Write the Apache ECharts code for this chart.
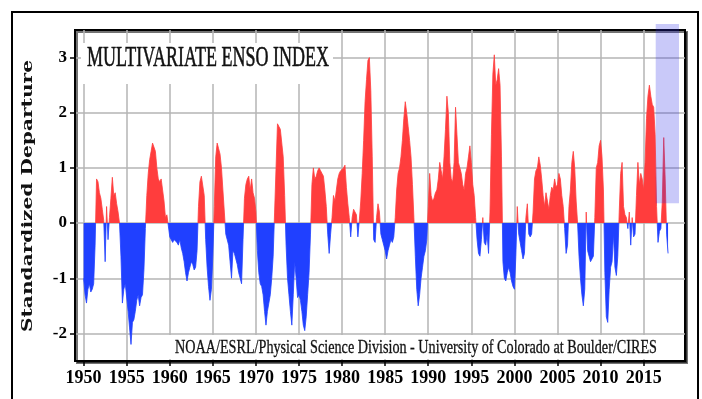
<!DOCTYPE html>
<html>
<head>
<meta charset="utf-8">
<script src="https://cdn.jsdelivr.net/npm/echarts@6/dist/echarts.min.js"></script>
<style>
  html, body { margin: 0; padding: 0; background: #fff; }
  #chart { width: 702px; height: 399px; }
</style>
</head>
<body>
<div id="chart"></div>
<script>
// MEI readings, six per year (Jan, Mar, May, Jul, Sep, Nov), one array per decade
const mei1950s = [
  -1.0, -1.3, -1.45, -1.2, -1.1, -1.25,
  -1.2, -1.1, -0.4, 0.8, 0.75, 0.55,
  0.45, 0.25, 0.05, -0.7, 0.3, -0.3,
  0.1, 0.45, 0.83, 0.5, 0.55, 0.35,
  0.2, 0.0, -0.6, -1.45, -1.2, -1.1,
  -1.1, -1.6, -1.9, -2.2, -1.8, -1.75,
  -1.6, -1.4, -1.3, -1.5, -1.35, -1.3,
  -0.85, -0.1, 0.5, 0.9, 1.15, 1.3,
  1.45, 1.45, 1.3, 1.0, 0.8, 0.75,
  0.8, 0.6, 0.4, 0.1, 0.15, -0.05,
]
const mei1960s = [
  -0.25, -0.3, -0.35, -0.3, -0.3, -0.35,
  -0.4, -0.3, -0.45, -0.55, -0.7, -0.9,
  -1.05, -0.9, -0.8, -0.7, -0.75, -0.85,
  -0.8, -0.5, 0.3, 0.75, 0.85, 0.85,
  0.5, -0.3, -0.8, -1.15, -1.4, -1.2,
  -0.6, 0.3, 1.2, 1.45, 1.35, 1.25,
  1.0, 0.6, 0.2, -0.2, -0.3, -0.4,
  -0.7, -1.0, -0.5, -0.55, -0.65, -0.75,
  -0.9, -1.0, -1.1, -0.3, 0.45, 0.7,
  0.8, 0.85, 0.6, 0.8, 0.55, 0.45,
]
const mei1970s = [
  0.2, -0.5, -0.9, -1.1, -1.15, -1.3,
  -1.6, -1.85, -1.6, -1.45, -1.3, -1.0,
  -0.6, 0.2, 1.0, 1.8, 1.75, 1.7,
  1.7, 1.2, 0.5, -0.4, -1.0, -1.3,
  -1.6, -1.85, -1.3, -0.7, -1.0, -1.35,
  -1.3, -1.4, -1.6, -1.85, -1.95, -1.7,
  -1.3, -0.9, -0.2, 0.7, 1.0, 0.8,
  0.85, 0.95, 1.0, 0.95, 0.9, 0.85,
  0.6, 0.3, -0.2, -0.55, -0.2, 0.1,
  0.5, 0.4, 0.6, 0.8, 0.9, 0.95,
]
const mei1980s = [
  0.95, 1.0, 1.05, 0.65, 0.35, 0.1,
  -0.25, 0.1, 0.25, 0.2, 0.15, -0.25,
  0.05, 0.4, 0.9, 1.5, 2.2, 2.6,
  2.95, 3.0, 2.4, 1.2, -0.3, -0.35,
  0.1, 0.35, 0.2, -0.2, -0.3, -0.4,
  -0.5, -0.65, -0.5, -0.4, -0.3, -0.35,
  -0.25, 0.1, 0.6, 0.9, 1.0, 1.2,
  1.5, 1.9, 2.2, 2.0, 1.75, 1.5,
  1.2, 0.7, 0.1, -0.6, -1.2, -1.5,
  -1.3, -1.0, -0.8, -0.6, -0.5, -0.3,
]
const mei1990s = [
  0.3, 0.9, 0.5, 0.4, 0.45, 0.55,
  0.6, 0.8, 1.1, 0.95, 0.8, 1.2,
  1.7, 2.3, 2.0, 1.1, 0.8, 0.75,
  1.1, 2.1, 1.6, 1.1, 1.0, 0.9,
  0.7, 0.6, 0.9, 1.0, 1.2, 1.4,
  1.1, 0.7, 0.5, 0.1, -0.3, -0.55,
  -0.6, -0.3, 0.1, -0.35, -0.4, -0.2,
  -0.55, 0.2, 1.6, 2.7, 3.05, 2.5,
  2.6, 2.8, 2.5, 1.2, -0.7, -1.0,
  -1.05, -0.9, -0.8, -0.9, -1.05, -1.15,
]
const mei2000s = [
  -1.2, -0.6, 0.3, -0.2, -0.35, -0.5,
  -0.65, -0.55, 0.1, 0.35, -0.2, -0.25,
  -0.2, 0.2, 0.8, 0.95, 1.0, 1.2,
  1.05, 0.8, 0.5, 0.3, 0.55, 0.4,
  0.25, 0.5, 0.65, 0.6, 0.8, 0.65,
  0.7, 0.9, 0.8, 0.5, 0.3, -0.1,
  -0.55, -0.4, 0.3, 0.6, 1.1, 1.3,
  1.0, 0.4, 0.0, -0.6, -1.0, -1.3,
  -1.5, -1.2, 0.2, -0.5, -0.6, -0.7,
  -0.7, -0.6, 0.1, 1.0, 1.1, 1.4,
]
const mei2010s = [
  1.5, 1.2, 0.6, -0.9, -1.7, -1.8,
  -1.2, -0.8, -0.7, -0.2, -0.8, -0.95,
  -0.6, 0.2, 0.9, 1.1, 0.3, 0.15,
  0.1, -0.1, 0.2, -0.4, 0.1, -0.25,
  -0.2, 0.5, 1.1, 0.7, 0.9, 0.8,
  0.6, 1.1, 1.9, 2.3, 2.5, 2.3,
  2.15, 2.1, 1.6, 0.3, -0.35, -0.15,
  -0.1, 0.4, 1.55, 0.8, -0.2, -0.55,
]

const firstYear = 1950
const readingsPerYear = 6
const xTicks = [1950, 1955, 1960, 1965, 1970, 1975, 1980, 1985, 1990, 1995, 2000, 2005, 2010, 2015]
const yTicks = [-2, -1, 0, 1, 2, 3]
const shadedYears = [2016.4, 2019.1]
const shadedValues = [0.36, 3.61]

const TITLE = "MULTIVARIATE ENSO INDEX"
const CREDIT = "NOAA/ESRL/Physical Science Division - University of Colorado at Boulder/CIRES"
const Y_NAME = "Standardized Departure"

const RED = "#ff3d3d"
const BLUE = "#2040ff"

const mei = [].concat(mei1950s, mei1960s, mei1970s, mei1980s, mei1990s, mei2000s, mei2010s)
const points = mei.map((v, i) => [firstYear + i / readingsPerYear, v])

// horizontal squeeze/stretch so a text fills a given width
const measure = document.createElement("canvas").getContext("2d")
function stretch(text, font, width) {
  measure.font = font
  return width / measure.measureText(text).width
}

const titleFont = "30px 'Liberation Serif'"
const creditFont = "19px 'Liberation Serif'"
const yNameFont = "bold 14px 'DejaVu Serif'"

function label(text, font, x, y, width, extra, weight) {
  return Object.assign({
    type: "text",
    x: x,
    y: y,
    scaleX: stretch(text, font, width),
    z: 6,
    silent: true,
    style: {
      text: text,
      font: font,
      fill: "#111",
      stroke: weight ? "#111" : null,
      lineWidth: weight || 0,
      textAlign: "center",
      textVerticalAlign: "middle",
      align: "center",
      verticalAlign: "middle",
    },
  }, extra || {})
}

const chart = echarts.init(document.getElementById("chart"), null, { renderer: "canvas" })

const axisFont = {
  fontFamily: "'Liberation Serif'",
  fontWeight: "bold",
  color: "#000",
  formatter: (v) => String(v),
}

const option = {
  animation: false,
  backgroundColor: "#fff",
  grid: {
    left: 75,
    right: 17,
    top: 30,
    bottom: 38,
    show: true,
    backgroundColor: "#fff",
    borderColor: "#000",
    borderWidth: 2,
    shadowColor: "rgba(0,0,0,0.55)",
    shadowBlur: 0,
    shadowOffsetX: 2,
    shadowOffsetY: 2,
  },
  xAxis: {
    type: "value",
    min: 1949,
    max: 2019.8,
    axisLine: { onZero: false, lineStyle: { color: "#000", width: 2 } },
    axisTick: { customValues: xTicks, length: 5, lineStyle: { color: "#000", width: 1.5 } },
    axisLabel: Object.assign({ customValues: xTicks, fontSize: 18, margin: 8 }, axisFont),
    splitLine: { show: true, lineStyle: { color: "#b4b4b4", width: 1.5 } },
  },
  yAxis: {
    type: "value",
    min: -2.5,
    max: 3.5,
    axisLine: { show: true, onZero: false, lineStyle: { color: "#000", width: 2 } },
    axisTick: { show: true, customValues: yTicks, length: 5, lineStyle: { color: "#000", width: 1.5 } },
    axisLabel: Object.assign({ customValues: yTicks, fontSize: 17, margin: 8 }, axisFont),
    splitLine: { show: true, lineStyle: { color: "#b4b4b4", width: 1.5 } },
  },
  visualMap: {
    show: false,
    type: "piecewise",
    seriesIndex: 0,
    dimension: 1,
    // finite bounds so the line view gets real colour stops
    pieces: [
      { min: -10, max: 0, color: BLUE },
      { min: 0, max: 10, color: RED },
    ],
  },
  series: [
    {
      type: "line",
      data: points,
      symbol: "none",
      showSymbol: false,
      silent: true,
      z: 2,
      lineStyle: { width: 0.8 },
      areaStyle: { opacity: 1 },
    },
    {
      // shaded box over the latest months
      type: "custom",
      silent: true,
      z: 10,
      clip: false,
      data: [[shadedYears[0], shadedValues[0], shadedYears[1], shadedValues[1]]],
      encode: { x: [0, 2], y: [1, 3] },
      renderItem: (params, api) => {
        const p0 = api.coord([api.value(0), api.value(3)])
        const p1 = api.coord([api.value(2), api.value(1)])
        return {
          type: "rect",
          shape: { x: p0[0], y: p0[1], width: p1[0] - p0[0], height: p1[1] - p0[1] },
          style: { fill: "rgba(40,40,230,0.25)" },
        }
      },
    },
  ],
  graphic: [
    {
      type: "rect",
      silent: true,
      z: 20,
      shape: { x: 12, y: 12, width: 686, height: 420 },
      style: { fill: "none", stroke: "#000", lineWidth: 2 },
    },
    { type: "rect", silent: true, z: 5, shape: { x: 81, y: 43, width: 252, height: 41 }, style: { fill: "#fff" } },
    label(TITLE, titleFont, 208, 58, 242, null, 0.6),
    { type: "rect", silent: true, z: 5, shape: { x: 168, y: 335, width: 516, height: 24 }, style: { fill: "#fff" } },
    label(CREDIT, creditFont, 416, 348, 482, null, 0.3),
    label(Y_NAME, yNameFont, 28, 196, 272, { rotation: Math.PI / 2 }),
  ],
}

chart.setOption(option)
</script>
</body>
</html>
